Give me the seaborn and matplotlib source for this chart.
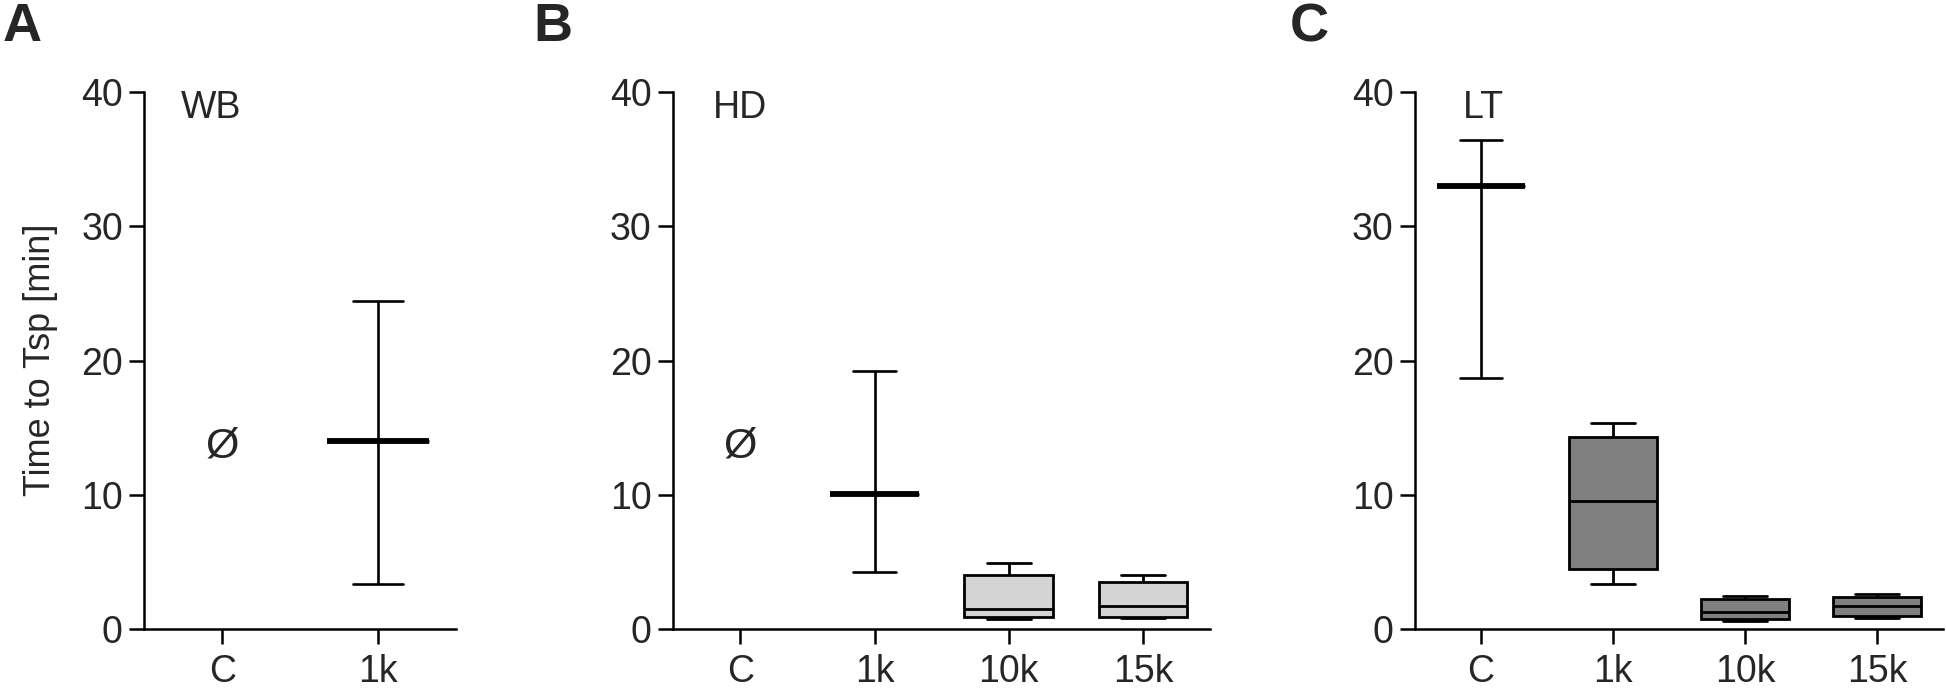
import pandas as pd
import seaborn as sns
import matplotlib.pyplot as plt
from matplotlib import font_manager

# categories per panel
wb_groups = ["C", "1k"]
hd_groups = ["C", "1k", "10k", "15k"]
lt_groups = ["C", "1k", "10k", "15k"]

# five-number summaries: low whisker, q1, median, q3, high whisker
# groups shown only as mean with range have q1 = median = q3
wb_1k = [3.4, 14.0, 14.0, 14.0, 24.4]
hd_1k = [4.3, 10.1, 10.1, 10.1, 19.2]
hd_10k = [0.74, 0.89, 1.49, 4.04, 4.91]
hd_15k = [0.82, 0.94, 1.73, 3.50, 4.04]
lt_c = [18.7, 33.0, 33.0, 33.0, 36.4]
lt_1k = [3.34, 4.49, 9.55, 14.3, 15.37]
lt_10k = [0.62, 0.77, 1.26, 2.23, 2.50]
lt_15k = [0.82, 0.99, 1.73, 2.40, 2.60]

# groups without a value (control) get the empty set sign
wb_empty = ["C"]
hd_empty = ["C"]

panel_names = ["WB", "HD", "LT"]
panel_letters = ["A", "B", "C"]


def long_df(groups):
    rows = []
    for name, vals in groups.items():
        for v in vals:
            rows.append({"group": name, "time": v})
    return pd.DataFrame(rows)


def draw_range(ax, groups, order):
    # mean with min/max: flat box, thick mean line, capped whiskers
    df = long_df(groups)
    sns.boxplot(data=df, x="group", y="time", order=order, ax=ax, color="white",
                saturation=1, width=0.66, whis=(0, 100), showfliers=False,
                linecolor="black", linewidth=1.9,
                medianprops={"linewidth": 4.2}, capwidths=0.32)


def draw_boxes(ax, groups, order, color):
    df = long_df(groups)
    sns.boxplot(data=df, x="group", y="time", order=order, ax=ax, color=color,
                saturation=1, width=0.66, whis=(0, 100), showfliers=False,
                linecolor="black", linewidth=2.0, capwidths=0.33)


def style_axis(ax, n, family):
    ax.set_xlim(-0.5, n - 0.5)
    ax.set_ylim(0, 40)
    ax.set_yticks([0, 10, 20, 30, 40])
    ax.set_xlabel("")
    ax.set_ylabel("")
    sns.despine(ax=ax)
    for side in ["left", "bottom"]:
        ax.spines[side].set_linewidth(1.8)
        ax.spines[side].set_color("black")
    ax.tick_params(length=10.5, width=1.8, color="black", labelsize=27, pad=5)
    ax.tick_params(axis="x", pad=7)
    for lab in ax.get_xticklabels() + ax.get_yticklabels():
        lab.set_family(family)


sns.set_style("ticks")
plt.rcParams["font.family"] = ["Liberation Sans", "DejaVu Sans"]

names = {f.name for f in font_manager.fontManager.ttflist}
narrow = "Liberation Sans Narrow" if "Liberation Sans Narrow" in names else "Liberation Sans"
regular = "Liberation Sans"

fig = plt.figure(figsize=(19.46, 6.89), dpi=100)
bottom, height = 0.0866, 0.7803
ax_a = fig.add_axes([0.0742, bottom, 0.1601, height])
ax_b = fig.add_axes([0.3460, bottom, 0.2758, height])
ax_c = fig.add_axes([0.7271, bottom, 0.2714, height])

# panel A: WB
draw_range(ax_a, {"1k": wb_1k}, wb_groups)
style_axis(ax_a, len(wb_groups), regular)

# panel B: HD
draw_range(ax_b, {"1k": hd_1k}, hd_groups)
draw_boxes(ax_b, {"10k": hd_10k, "15k": hd_15k}, hd_groups, "#d4d4d4")
style_axis(ax_b, len(hd_groups), narrow)

# panel C: LT
draw_range(ax_c, {"C": lt_c}, lt_groups)
draw_boxes(ax_c, {"1k": lt_1k, "10k": lt_10k, "15k": lt_15k}, lt_groups, "#808080")
style_axis(ax_c, len(lt_groups), regular)

# empty set markers
for ax, empty, order, fam in [(ax_a, wb_empty, wb_groups, regular),
                              (ax_b, hd_empty, hd_groups, narrow)]:
    for g in empty:
        ax.text(order.index(g), 13.6, "Ø", ha="center", va="center",
                fontsize=31, family=fam)

# panel names
ax_a.text(-0.07, 38.8, panel_names[0], ha="center", va="center", fontsize=27, family=regular)
ax_b.text(0.0, 38.8, panel_names[1], ha="center", va="center", fontsize=27, family=narrow)
ax_c.text(0.02, 38.8, panel_names[2], ha="center", va="center", fontsize=27, family=regular)

# y label
fig.text(41 / 1946, 1 - 360 / 689, "Time to Tsp [min]", rotation=90,
         ha="center", va="center", fontsize=26)

# panel letters
for x, letter in zip([3, 533, 1290], panel_letters):
    fig.text(x / 1946, 1 - 2 / 689, letter, ha="left", va="top",
             fontsize=39, fontweight="bold")

plt.savefig("out.png", dpi=100)
